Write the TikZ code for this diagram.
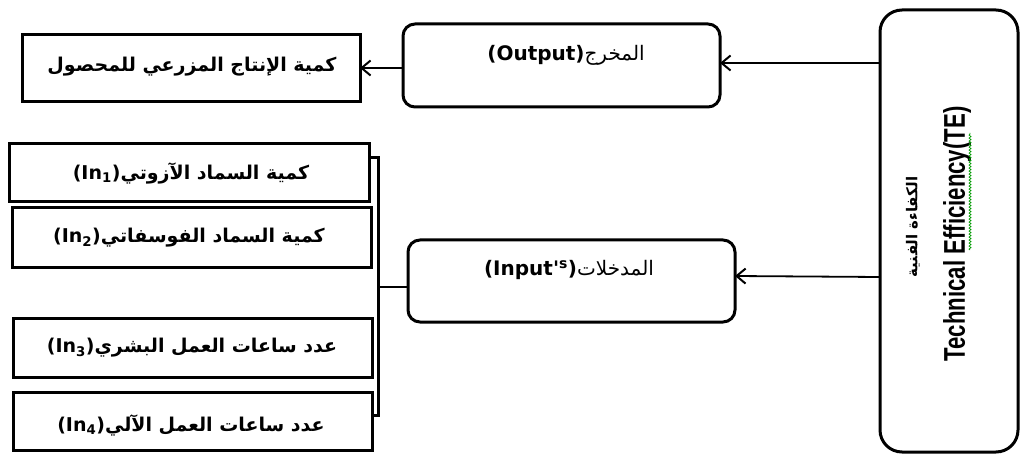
\documentclass[tikz,border=0pt]{standalone}
\usepackage{fontspec}
\setmainfont{DejaVu Sans}
\newfontfamily\arabicfont[Script=Arabic]{DejaVu Sans}
\newfontfamily\latinfont{DejaVu Sans}
\newfontfamily\arialfont{Liberation Sans}
\TeXXeTstate=1
\usetikzlibrary{arrows.meta,decorations.pathmorphing}
\tikzset{
  sqbox/.style={draw, line width=3pt},
  rbox/.style={draw, line width=3pt, rounded corners=12pt},
  tebox/.style={draw, line width=3pt, rounded corners=22pt},
  conn/.style={line width=1.8pt},
  arr/.style={conn, -{Straight Barb[length=9pt,width=15pt,line width=2pt]}},
  lbl/.style={inner sep=0pt, font=\fontsize{19}{22}\selectfont},
  hlbl/.style={inner sep=0pt, font=\fontsize{20}{23}\selectfont},
}
\begin{document}
\begin{tikzpicture}[x=1pt,y=-1pt]
\useasboundingbox (0,0) rectangle (1020,457);
% boxes
\draw[tebox] (880,10) rectangle (1018,452);
\coordinate (teTop) at (880,63);
\coordinate (teBot) at (880,277);
\draw[rbox] (403,24) rectangle (720,107);
\coordinate (outR) at (720,63);
\coordinate (outL) at (403,68);
\draw[sqbox] (22,35) rectangle (360,102);
\coordinate (prodR) at (360,68);
\draw[rbox] (408,240) rectangle (735,322);
\coordinate (inR) at (735,276);
\coordinate (inL) at (408,287);
\draw[sqbox] (9,144) rectangle (369,202);
\draw[sqbox] (12,208) rectangle (371,267);
\draw[sqbox] (13,318) rectangle (372,377);
\draw[sqbox] (13,392) rectangle (372,450);
% texts
\node[lbl] (prodT) at (192,67) {\arabicfont\bfseries\beginR كمية الإنتاج  المزرعي للمحصول\endR};
\node[hlbl] (outT) at (566,55) {\arabicfont\beginR المخرج\beginL{\latinfont\bfseries (Output)}\endL\endR};
\node[hlbl] (inT) at (569,270) {\arabicfont\beginR المدخلات\beginL{\latinfont\bfseries (Input'\textsuperscript{s})}\endL\endR};
\node[lbl] (t1) at (191,173) {\arabicfont\bfseries\beginR كمية السماد الآزوتي\beginL{\latinfont (In\textsubscript{1})}\endL\endR};
\node[lbl] (t2) at (189,238) {\arabicfont\bfseries\beginR كمية السماد الفوسفاتي\beginL{\latinfont (In\textsubscript{2})}\endL\endR};
\node[lbl] (t3) at (192,348) {\arabicfont\bfseries\beginR عدد ساعات العمل البشري\beginL{\latinfont (In\textsubscript{3})}\endL\endR};
\node[lbl] (t4) at (191,425) {\arabicfont\bfseries\beginR عدد ساعات العمل الآلي\beginL{\latinfont (In\textsubscript{4})}\endL\endR};
\node[inner sep=0pt, rotate=90] (teT) at (957,234) {\scalebox{0.74}[1]{\arialfont\bfseries\fontsize{30}{34}\selectfont Technical Efficiency(TE)}};
\node[inner sep=0pt, rotate=90] (teA) at (913,227) {\arabicfont\bfseries\fontsize{15}{17}\selectfont\beginR الكفاءة الفنية\endR};
\coordinate (sqA) at (970,250);
\coordinate (sqB) at (970,133);
\draw[green!60!black, line width=0.7pt, decorate, decoration={snake, amplitude=1pt, segment length=3pt}] (sqA) -- (sqB);
% connectors
\draw[arr] (teTop) -- (outR);
\draw[arr] (outL) -- (prodR);
\draw[arr] (teBot) -- (inR);
\coordinate (brT) at (378,158);
\coordinate (brB) at (378,415);
\coordinate (brM) at (378,287);
\draw[line width=3pt] (370,158) -- (brT) -- (brB) -- (372,415);
\draw[conn] (inL) -- (brM);
\end{tikzpicture}
\end{document}
